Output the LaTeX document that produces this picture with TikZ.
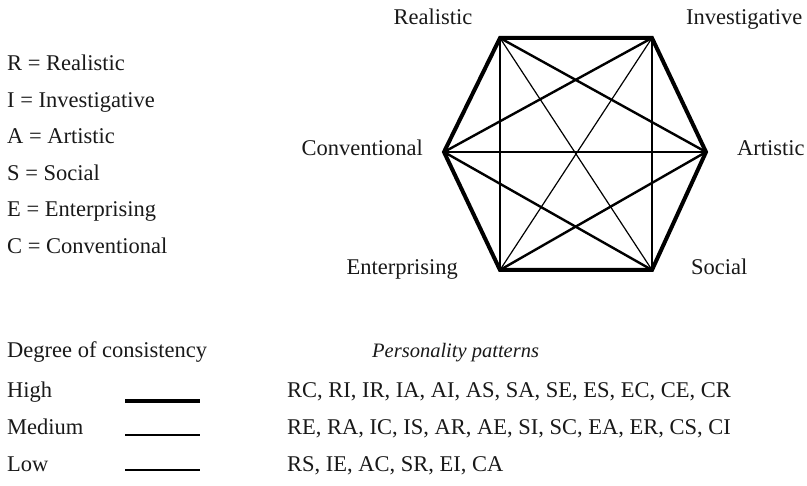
\documentclass[tikz,border=0pt]{standalone}
\usepackage{fontspec}
\setmainfont{Liberation Serif}
\tikzset{
  high/.style={line width=4pt},
  medium/.style={line width=2.4pt},
  low/.style={line width=1.2pt},
  txt/.style={inner sep=0pt, anchor=base west, text=black!90}
}

\begin{document}
\begin{tikzpicture}[x=1pt, y=-1pt, font=\fontsize{22.5}{26}\selectfont]
\useasboundingbox (0,0) rectangle (807,486);
\coordinate (R) at (500,38);
\coordinate (I) at (652,38);
\coordinate (A) at (706,152);
\coordinate (S) at (652,270);
\coordinate (E) at (500,270);
\coordinate (C) at (444,152);

\draw [high] (R) -- (I) -- (A) -- (S) -- (E) -- (C) -- cycle;
\foreach \p/\q in {R/E, R/A, I/C, I/S, A/E, S/C}
  \draw [medium] (\p) -- (\q);
\foreach \p/\q in {C/A, R/S, I/E}
  \draw [low] (\p) -- (\q);

\node [txt, anchor=base] (lR) at (433,25) {Realistic};
\node [txt] (lI) at (686,25) {Investigative};
\node [txt, anchor=base east] (lC) at (423,156) {Conventional};
\node [txt] (lA) at (737,156) {Artistic};
\node [txt, anchor=base east] (lE) at (458,275) {Enterprising};
\node [txt] (lS) at (691,275) {Social};

\node [txt] (kR) at (7,71) {R = Realistic};
\node [txt] (kI) at (7,108) {I = Investigative};
\node [txt] (kA) at (7,144) {A = Artistic};
\node [txt] (kS) at (7,181) {S = Social};
\node [txt] (kE) at (7,217) {E = Enterprising};
\node [txt] (kC) at (7,254) {C = Conventional};

\node [txt] (deg) at (7,358) {Degree of consistency};
\node [txt, font=\fontsize{20.5}{24}\selectfont\itshape] (pat) at (372,358) {Personality patterns};

\node [txt] (hi) at (7,398) {High};
\node [txt] (me) at (7,435) {Medium};
\node [txt] (lo) at (7,472) {Low};
\coordinate (hi1) at (125,401); \coordinate (hi2) at (200,401);
\coordinate (me1) at (125,435); \coordinate (me2) at (200,435);
\coordinate (lo1) at (125,470); \coordinate (lo2) at (200,470);
\draw [high] (hi1) -- (hi2);
\draw [medium] (me1) -- (me2);
\draw [low] (lo1) -- (lo2);

\node [txt] (phi) at (287,398) {RC, RI, IR, IA, AI, AS, SA, SE, ES, EC, CE, CR};
\node [txt] (pme) at (287,435) {RE, RA, IC, IS, AR, AE, SI, SC, EA, ER, CS, CI};
\node [txt] (plo) at (287,472) {RS, IE, AC, SR, EI, CA};
\end{tikzpicture}
\end{document}
